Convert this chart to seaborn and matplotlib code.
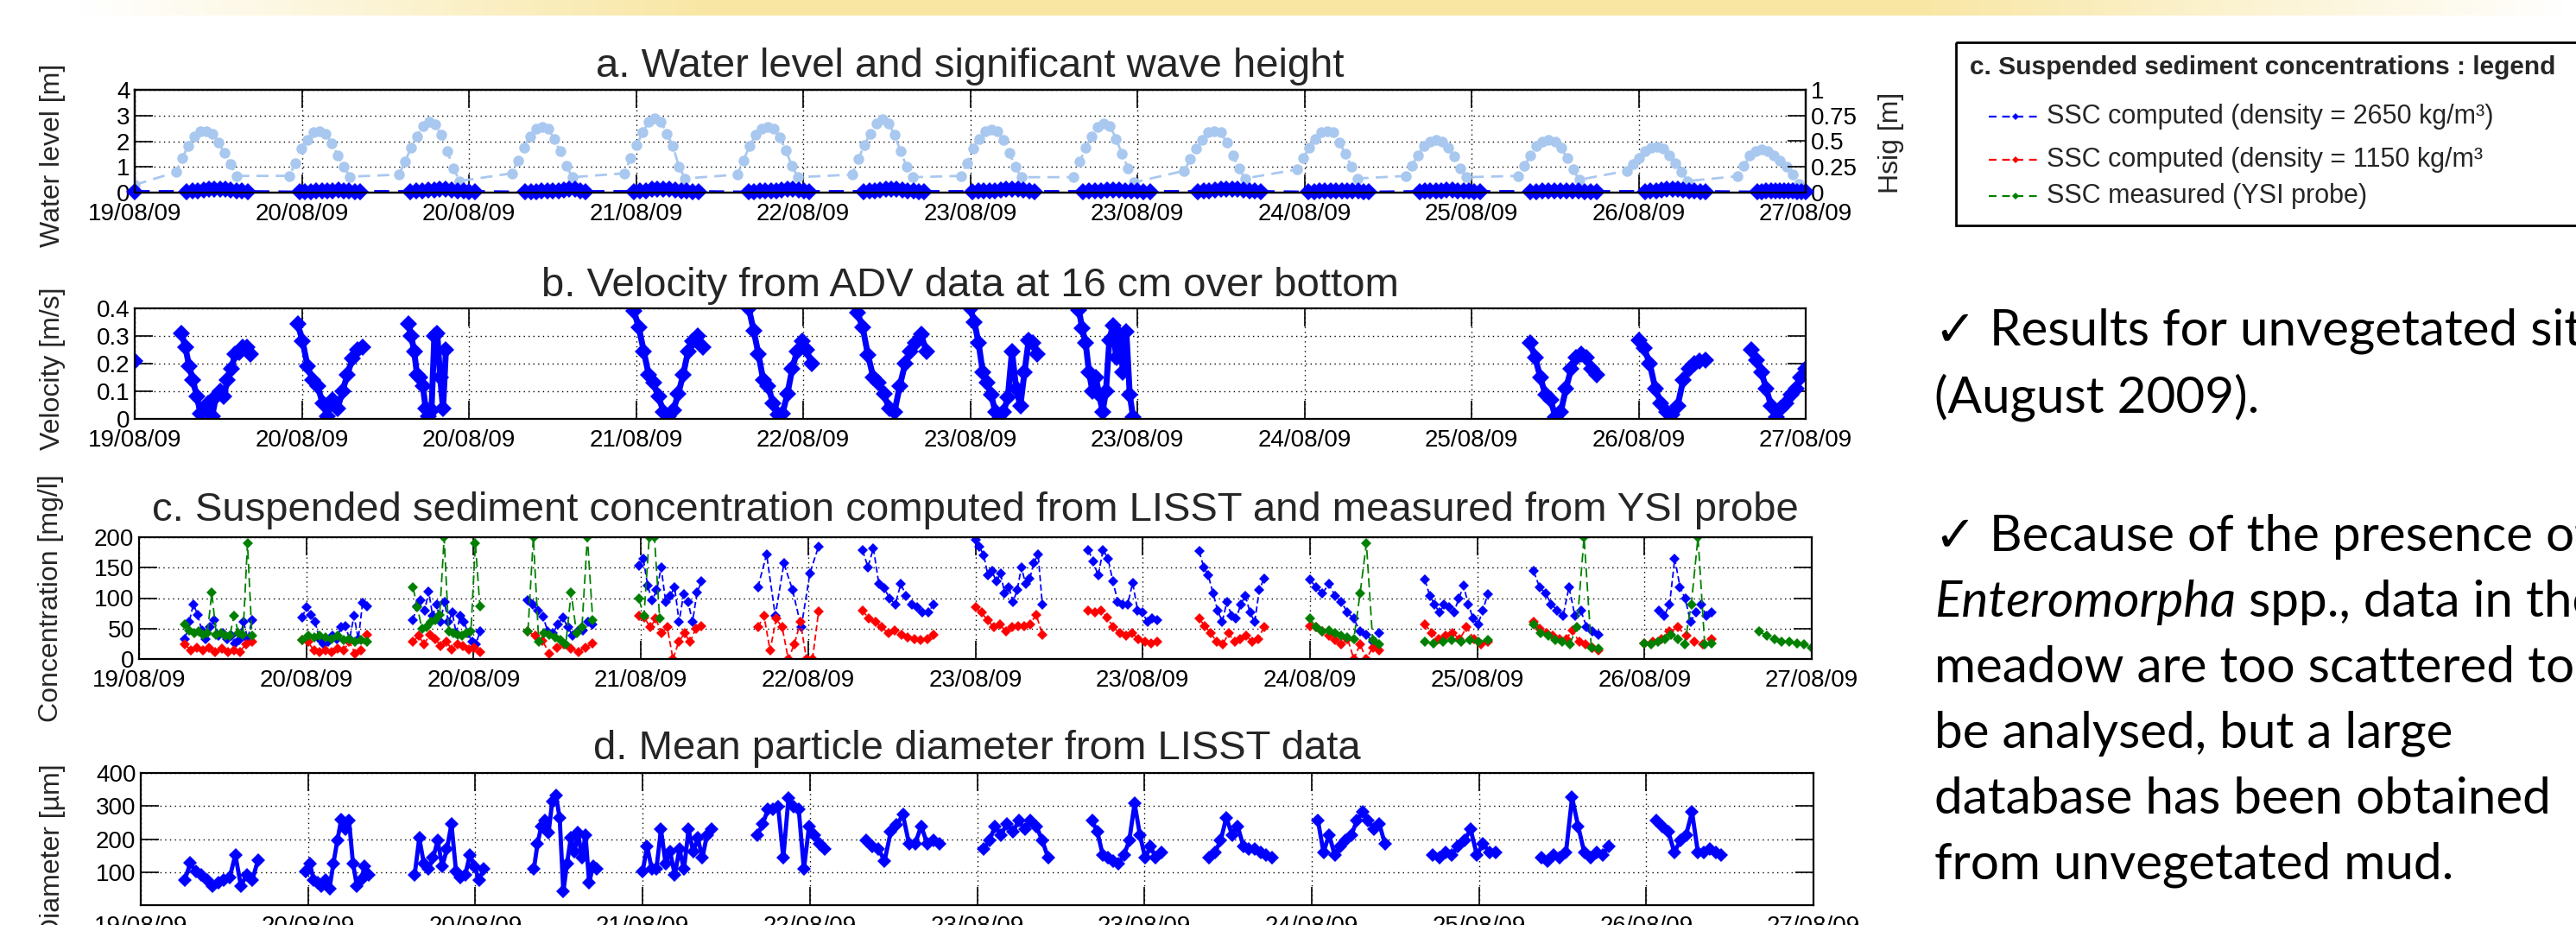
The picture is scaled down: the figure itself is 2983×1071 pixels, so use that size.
import numpy as np
import pandas as pd
import matplotlib
matplotlib.use("Agg")
import matplotlib.pyplot as plt
import seaborn as sns
from matplotlib.patches import Rectangle
from matplotlib.colors import LinearSegmentedColormap

sns.set_theme(style="ticks")
plt.rcParams['font.family'] = ['Liberation Sans', 'DejaVu Sans']
plt.rcParams['axes.unicode_minus'] = False

W, H = 2983, 1071

# x axis in days since 19/08/09 00:00
tick_days = [0, 0.8, 1.6, 2.4, 3.2, 4.0, 4.8, 5.6, 6.4, 7.2, 8.0]
tick_labels = ['19/08/09', '20/08/09', '20/08/09', '21/08/09', '22/08/09', '23/08/09',
               '23/08/09', '24/08/09', '25/08/09', '26/08/09', '27/08/09']

# ---- a. water level (m), one list per tide, sampled every ~42 min around the peak
tide_step = 0.029
tide_peak = [0.343, 0.885, 1.41, 1.95, 2.49, 3.03, 3.58, 4.10, 4.64, 5.17, 5.71, 6.23, 6.77, 7.29, 7.82]
tide_vals = [
    [0.80, 1.35, 1.80, 2.20, 2.38, 2.40, 2.30, 1.95, 1.55, 1.10, 0.65],
    [0.65, 1.15, 1.70, 2.05, 2.35, 2.40, 2.30, 1.90, 1.45, 1.00, 0.62],
    [0.70, 1.20, 1.75, 2.20, 2.60, 2.74, 2.65, 2.25, 1.60, 0.95, 0.45],
    [0.75, 1.25, 1.75, 2.20, 2.50, 2.57, 2.50, 2.10, 1.60, 1.05, 0.60],
    [0.75, 1.35, 1.85, 2.35, 2.75, 2.90, 2.75, 2.30, 1.80, 1.00, 0.55],
    [0.70, 1.25, 1.80, 2.25, 2.50, 2.57, 2.50, 2.15, 1.65, 1.05, 0.60],
    [0.70, 1.30, 1.85, 2.30, 2.70, 2.85, 2.70, 2.25, 1.60, 1.00, 0.60],
    [0.65, 1.15, 1.70, 2.10, 2.40, 2.46, 2.40, 2.05, 1.55, 1.00, 0.60],
    [0.60, 1.20, 1.75, 2.20, 2.55, 2.68, 2.60, 2.10, 1.50, 0.95, 0.40],
    [0.85, 1.30, 1.70, 2.05, 2.35, 2.40, 2.35, 1.95, 1.45, 0.95, 0.55],
    [0.90, 1.35, 1.75, 2.10, 2.35, 2.40, 2.35, 1.95, 1.50, 1.00, 0.55],
    [0.65, 1.05, 1.45, 1.80, 2.00, 2.06, 2.00, 1.75, 1.40, 0.95, 0.60],
    [0.65, 1.05, 1.45, 1.80, 2.00, 2.06, 2.00, 1.75, 1.35, 0.90, 0.50],
    [0.85, 1.10, 1.35, 1.60, 1.75, 1.78, 1.72, 1.45, 1.15, 0.80, 0.45],
    [0.64, 1.04, 1.43, 1.60, 1.67, 1.62, 1.45, 1.25, 1.00, 0.70, 0.35],
]

# ---- a. significant wave height (m), right axis
hs_start = [0.25, 0.79, 1.32, 1.87, 2.39, 2.94, 3.49, 4.01, 4.54, 5.09, 5.62, 6.15, 6.68, 7.23, 7.77]
hs_end = [0.54, 1.08, 1.63, 2.16, 2.70, 3.23, 3.78, 4.31, 4.86, 5.39, 5.91, 6.44, 7.00, 7.52, 8.00]
hs_vals = [
    [0.010, 0.015, 0.020, 0.025, 0.030, 0.030, 0.035, 0.030, 0.025, 0.020, 0.015, 0.010],
    [0.005, 0.010, 0.010, 0.015, 0.015, 0.020, 0.020, 0.025, 0.020, 0.015, 0.010, 0.010],
    [0.010, 0.015, 0.020, 0.025, 0.025, 0.030, 0.030, 0.025, 0.020, 0.015, 0.010, 0.010],
    [0.005, 0.010, 0.010, 0.015, 0.015, 0.015, 0.020, 0.025, 0.030, 0.035, 0.020, 0.010],
    [0.010, 0.015, 0.020, 0.030, 0.035, 0.035, 0.030, 0.025, 0.020, 0.015, 0.010, 0.010],
    [0.005, 0.010, 0.015, 0.015, 0.020, 0.020, 0.025, 0.030, 0.030, 0.025, 0.015, 0.010],
    [0.010, 0.015, 0.020, 0.025, 0.030, 0.035, 0.030, 0.025, 0.020, 0.015, 0.010, 0.010],
    [0.010, 0.015, 0.015, 0.020, 0.020, 0.025, 0.030, 0.035, 0.030, 0.025, 0.015, 0.010],
    [0.010, 0.015, 0.020, 0.020, 0.025, 0.025, 0.025, 0.020, 0.020, 0.015, 0.010, 0.010],
    [0.010, 0.015, 0.020, 0.025, 0.030, 0.035, 0.035, 0.030, 0.025, 0.020, 0.015, 0.010],
    [0.005, 0.010, 0.015, 0.015, 0.020, 0.020, 0.020, 0.020, 0.015, 0.015, 0.010, 0.005],
    [0.010, 0.015, 0.015, 0.020, 0.020, 0.025, 0.025, 0.020, 0.020, 0.015, 0.010, 0.010],
    [0.010, 0.010, 0.015, 0.015, 0.020, 0.020, 0.020, 0.015, 0.015, 0.010, 0.010, 0.010],
    [0.010, 0.015, 0.020, 0.025, 0.030, 0.035, 0.030, 0.025, 0.020, 0.015, 0.010, 0.010],
    [0.005, 0.010, 0.015, 0.015, 0.020, 0.020, 0.020, 0.015, 0.015, 0.010, 0.010, 0.005],
]

# ---- b. ADV velocity (m/s)
vel_start = [0.00, 0.224, 0.78, 1.31, 2.39, 2.94, 3.46, 4.00, 4.52, 6.68, 7.20, 7.74]
vel_end = [0.00, 0.554, 1.09, 1.49, 2.72, 3.24, 3.79, 4.32, 4.78, 7.00, 7.52, 8.00]
vel_vals = [
    [0.21],
    [0.31, 0.26, 0.19, 0.14, 0.08, 0.02, 0.04, 0.057, 0.01, 0.08, 0.10, 0.08, 0.14, 0.18, 0.235, 0.24, 0.26, 0.26, 0.235],
    [0.345, 0.28, 0.19, 0.14, 0.12, 0.057, 0.01, 0.07, 0.036, 0.10, 0.16, 0.22, 0.25, 0.26],
    [0.345, 0.30, 0.245, 0.16, 0.15, 0.12, 0.036, 0.01, 0.03, 0.30, 0.31, 0.15, 0.036, 0.25],
    [0.39, 0.33, 0.245, 0.16, 0.13, 0.08, 0.026, 0.01, 0.03, 0.09, 0.16, 0.245, 0.28, 0.30, 0.26],
    [0.40, 0.32, 0.235, 0.14, 0.12, 0.057, 0.016, 0.02, 0.09, 0.18, 0.245, 0.28, 0.25, 0.20],
    [0.385, 0.33, 0.23, 0.15, 0.13, 0.09, 0.036, 0.026, 0.12, 0.20, 0.244, 0.275, 0.306, 0.244],
    [0.40, 0.35, 0.275, 0.17, 0.13, 0.088, 0.026, 0.0, 0.026, 0.078, 0.244, 0.11, 0.047, 0.17, 0.285, 0.275, 0.234],
    [0.395, 0.327, 0.275, 0.17, 0.10, 0.15, 0.088, 0.026, 0.10, 0.285, 0.338, 0.223, 0.306, 0.17, 0.316, 0.088, 0.005],
    [0.275, 0.223, 0.15, 0.088, 0.068, 0.005, 0.026, 0.11, 0.18, 0.223, 0.234, 0.223, 0.18, 0.16],
    [0.285, 0.255, 0.20, 0.11, 0.057, 0.026, 0.016, 0.047, 0.14, 0.18, 0.20, 0.208, 0.213],
    [0.25, 0.213, 0.17, 0.11, 0.047, 0.005, 0.036, 0.057, 0.088, 0.11, 0.15, 0.18],
]

# ---- c. SSC (mg/l)
ssc_blue_start = [0.22, 0.78, 1.31, 1.86, 2.39, 2.96, 3.46, 4.00, 4.54, 5.07, 5.60, 6.15, 6.67, 7.27]
ssc_blue_end = [0.54, 1.09, 1.63, 2.17, 2.69, 3.25, 3.80, 4.32, 4.87, 5.38, 5.93, 6.45, 6.98, 7.52]
ssc_blue = [
    [33, 61, 90, 73, 47, 33, 52, 64, 38, 42, 33, 38, 26, 31, 61, 33, 64],
    [68, 85, 73, 61, 33, 24, 28, 38, 33, 52, 54, 33, 71, 33, 92, 87],
    [64, 87, 96, 80, 111, 71, 90, 61, 94, 61, 76, 42, 71, 61, 42, 28, 24, 45],
    [96, 90, 80, 70, 45, 42, 57, 68, 52, 38, 45, 47, 61, 57],
    [153, 165, 120, 96, 113, 150, 94, 104, 118, 61, 106, 94, 61, 109, 127],
    [118, 172, 71, 157, 113, 52, 141, 185],
    [179, 151, 182, 123, 116, 99, 90, 123, 104, 90, 85, 76, 76, 90],
    [196, 184, 170, 137, 144, 127, 141, 108, 118, 94, 113, 151, 123, 132, 158, 172, 90],
    [179, 160, 137, 179, 165, 127, 94, 90, 90, 125, 80, 76, 61, 66, 64],
    [177, 151, 137, 108, 80, 61, 94, 71, 66, 90, 104, 76, 61, 113, 132],
    [130, 118, 108, 123, 104, 94, 76, 66, 45, 40, 28, 42],
    [130, 104, 90, 76, 90, 85, 76, 99, 120, 90, 66, 57, 80, 106],
    [144, 118, 108, 90, 80, 71, 118, 71, 80, 52, 45, 40],
    [80, 71, 90, 165, 118, 99, 61, 76, 90, 71, 76],
]
ssc_red_start = [0.22, 0.78, 1.31, 1.86, 2.39, 2.96, 3.46, 4.00, 4.54, 5.07, 5.60, 6.15, 6.67, 7.20]
ssc_red_end = [0.54, 1.09, 1.63, 2.17, 2.69, 3.25, 3.80, 4.32, 4.87, 5.38, 5.93, 6.45, 6.98, 7.52]
ssc_red = [
    [24, 14, 19, 14, 19, 12, 17, 12, 14, 12, 24, 28],
    [31, 28, 14, 12, 14, 12, 17, 14, 28, 9, 14, 40],
    [28, 38, 24, 40, 33, 21, 28, 16, 24, 21, 16, 19, 12],
    [45, 38, 30, 9, 19, 24, 17, 12, 19, 26],
    [71, 68, 52, 66, 42, 52, 0, 28, 42, 28, 50, 54],
    [52, 71, 14, 66, 52, 0, 24, 61, 0, 0, 78],
    [80, 66, 61, 52, 42, 47, 40, 35, 33, 31, 33, 40],
    [85, 76, 64, 52, 57, 45, 52, 54, 54, 57, 73, 40],
    [80, 76, 80, 68, 52, 42, 38, 42, 33, 28, 26, 28],
    [66, 54, 42, 28, 24, 42, 28, 33, 38, 28, 33, 52],
    [54, 52, 45, 38, 31, 24, 33, 0, 24, 0, 19, 14],
    [57, 42, 33, 38, 42, 33, 52, 33, 24, 28],
    [61, 50, 42, 38, 33, 33, 47, 28, 24, 19, 14],
    [26, 28, 33, 45, 52, 38, 28, 24, 33],
]
ssc_green_start = [0.22, 0.78, 1.31, 1.86, 2.39, 5.60, 6.15, 6.67, 7.20, 7.75]
ssc_green_end = [0.54, 1.09, 1.63, 2.17, 2.49, 5.93, 6.45, 6.98, 7.52, 8.00]
ssc_green = [
    [57, 47, 42, 45, 40, 42, 109, 40, 42, 38, 38, 71, 42, 40, 190, 38],
    [31, 38, 35, 38, 35, 33, 38, 31, 33, 28, 31, 28],
    [118, 85, 50, 52, 61, 64, 73, 200, 45, 42, 40, 38, 42, 45, 190, 87],
    [45, 200, 28, 42, 40, 35, 31, 24, 109, 42, 52, 200, 64],
    [99, 71, 200, 200, 66],
    [66, 52, 45, 47, 42, 38, 35, 33, 108, 190, 31, 24],
    [28, 26, 28, 31, 28, 31, 28, 31],
    [57, 42, 38, 31, 28, 24, 52, 200, 19, 17],
    [26, 24, 28, 33, 40, 33, 24, 90, 200, 24, 26],
    [45, 38, 33, 28, 28, 26, 24, 19],
]

# ---- d. mean particle diameter (um)
diam_start = [0.21, 0.79, 1.31, 1.88, 2.40, 2.95, 3.47, 4.03, 4.55, 5.11, 5.63, 6.18, 6.70, 7.25]
diam_end = [0.56, 1.09, 1.64, 2.18, 2.73, 3.27, 3.82, 4.34, 4.88, 5.41, 5.95, 6.48, 7.02, 7.56]
diam_vals = [
    [75, 127, 101, 92, 75, 58, 67, 75, 84, 152, 58, 92, 75, 135],
    [101, 126, 75, 67, 58, 75, 50, 126, 195, 259, 229, 255, 126, 58, 75, 118, 92],
    [92, 203, 126, 109, 143, 195, 118, 169, 246, 101, 84, 92, 152, 118, 75, 109],
    [109, 186, 238, 255, 220, 315, 332, 263, 41, 126, 203, 161, 220, 143, 212, 67, 118, 109],
    [101, 178, 109, 109, 229, 126, 161, 92, 169, 109, 229, 161, 203, 143, 212, 229],
    [212, 246, 289, 289, 297, 143, 323, 297, 289, 109, 238, 212, 186, 169],
    [195, 178, 169, 134, 221, 243, 274, 186, 186, 239, 186, 195, 186],
    [169, 195, 239, 213, 247, 221, 256, 230, 256, 239, 195, 143],
    [256, 221, 152, 143, 134, 125, 152, 195, 308, 213, 143, 178, 143, 160],
    [143, 160, 195, 265, 213, 239, 178, 169, 169, 160, 152, 143],
    [256, 160, 213, 152, 178, 195, 213, 256, 282, 256, 230, 247, 186],
    [152, 143, 160, 152, 178, 195, 230, 152, 186, 160, 160],
    [143, 134, 152, 143, 160, 326, 239, 160, 143, 160, 152, 178],
    [256, 239, 221, 160, 195, 213, 282, 160, 160, 169, 160, 152],
]


def bursts(starts, ends, vals):
    parts = []
    for k, (s, e, v) in enumerate(zip(starts, ends, vals)):
        parts.append(pd.DataFrame({'day': np.linspace(s, e, len(v)), 'val': v, 'burst': k}))
    return pd.concat(parts, ignore_index=True)


wl_t, wl_v = [0.0], [0.3]
for p, vals in zip(tide_peak, tide_vals):
    for i, v in enumerate(vals):
        wl_t.append(p + (i - 5) * tide_step)
        wl_v.append(v)
df_wl = pd.DataFrame({'day': wl_t, 'val': wl_v, 'burst': 0})

df_hs = bursts([0.0] + hs_start, [0.0] + hs_end, [[0.01]] + hs_vals)
df_hs['burst'] = 0  # one continuous record
df_vel = bursts(vel_start, vel_end, vel_vals)
df_blue = bursts(ssc_blue_start, ssc_blue_end, ssc_blue)
df_red = bursts(ssc_red_start, ssc_red_end, ssc_red)
df_green = bursts(ssc_green_start, ssc_green_end, ssc_green)
df_diam = bursts(diam_start, diam_end, diam_vals)

LIGHT = '#a9c8ef'
BLUE = '#0000ff'
RED = '#ff0000'
GREEN = '#008000'


def draw(ax, df, color, marker, ms, ls, lw, clip=True):
    sns.lineplot(data=df, x='day', y='val', units='burst', estimator=None, sort=False,
                 ax=ax, color=color, marker=marker, markersize=ms, markeredgewidth=0,
                 linestyle=ls, linewidth=lw, legend=False, errorbar=None, clip_on=clip)
    ax.set_xlabel('')
    ax.set_ylabel('')


def style(ax, ylim, yticks, ylabels, right=True):
    ax.set_xlim(0, 8)
    ax.set_ylim(*ylim)
    ax.set_xticks(tick_days)
    ax.set_xticklabels(tick_labels)
    ax.set_yticks(yticks)
    ax.set_yticklabels(ylabels)
    ax.tick_params(direction='in', length=15, width=1.2, labelsize=20, top=True,
                   right=right, colors='black')
    ax.tick_params(axis='x', pad=8.5)
    ax.tick_params(axis='y', pad=4)
    ax.grid(True, linestyle=(0, (1, 3)), color='black', linewidth=1.0)
    for s in ax.spines.values():
        s.set_linewidth(1.6)
        s.set_color('black')


def frac(l, t, r, b):
    return [l / W, 1 - b / H, (r - l) / W, (b - t) / H]


fig = plt.figure(figsize=(W / 100, H / 100), dpi=100)
fig.patch.set_facecolor('white')

ax_a = fig.add_axes(frac(156, 104, 2091, 223))
ax_b = fig.add_axes(frac(156, 357, 2091, 485))
ax_c = fig.add_axes(frac(161, 622, 2098, 763))
ax_d = fig.add_axes(frac(163, 895, 2100, 1048))

TITLE = 34

# a
draw(ax_a, df_wl, LIGHT, 'o', 9, (0, (5, 3)), 2.0)
style(ax_a, (0, 4), [0, 1, 2, 3, 4], ['0', '1', '2', '3', '4'], right=False)
ax_a2 = ax_a.twinx()
draw(ax_a2, df_hs, BLUE, 'D', 10, (0, (5, 3)), 2.5, clip=False)
ax_a2.set_ylim(0, 1)
ax_a2.set_yticks([0, 0.25, 0.5, 0.75, 1])
ax_a2.set_yticklabels(['0', '0.25', '0.5', '0.75', '1'])
ax_a2.tick_params(direction='in', length=15, width=1.2, labelsize=20, pad=4, colors='black')
ax_a2.grid(False)
for s in ax_a2.spines.values():
    s.set_linewidth(1.6)
    s.set_color('black')
ax_a2.set_ylabel('Hsig [m]', fontsize=23)
ax_a2.yaxis.set_label_coords(1 + (2175 - 2091) / 1935, (223 - 165) / 119)
ax_a.set_title('a. Water level and significant wave height', fontsize=TITLE, pad=11)
ax_a.set_ylabel('Water level [m]', fontsize=23)
ax_a.yaxis.set_label_coords((76 - 156) / 1935, (223 - 180) / 119)

# b
draw(ax_b, df_vel, BLUE, 'D', 10, '-', 5.0)
style(ax_b, (0, 0.4), [0, 0.1, 0.2, 0.3, 0.4], ['0', '0.1', '0.2', '0.3', '0.4'])
ax_b.set_title('b. Velocity from ADV data at 16 cm over bottom', fontsize=TITLE, pad=10)
ax_b.set_ylabel('Velocity [m/s]', fontsize=23)
ax_b.yaxis.set_label_coords((76 - 156) / 1935, (485 - 427) / 128)

# c
draw(ax_c, df_blue, BLUE, 'D', 6, (0, (4, 2)), 1.3)
draw(ax_c, df_red, RED, 'D', 6, (0, (4, 2)), 1.3)
draw(ax_c, df_green, GREEN, 'D', 6, (0, (6, 3)), 1.3)
style(ax_c, (0, 200), [0, 50, 100, 150, 200], ['0', '50', '100', '150', '200'])
ax_c.set_title('c. Suspended sediment concentration computed from LISST and measured from YSI probe',
               fontsize=TITLE, pad=14)
ax_c.set_ylabel('Concentration [mg/l]', fontsize=23)
ax_c.yaxis.set_label_coords((74 - 161) / 1937, (763 - 693) / 141)

# d
draw(ax_d, df_diam, BLUE, 'D', 8, '-', 3.5)
style(ax_d, (0, 400), [100, 200, 300, 400], ['100', '200', '300', '400'])
ax_d.set_title('d. Mean particle diameter from LISST data', fontsize=TITLE, pad=11.5)
ax_d.set_ylabel('Diameter [\u00b5m]', fontsize=23)
ax_d.yaxis.set_label_coords((76 - 163) / 1937, (1048 - 985) / 153)

# ---- overlay in pixel coordinates for slide decorations
ov = fig.add_axes([0, 0, 1, 1])
ov.set_axis_off()
strip = LinearSegmentedColormap.from_list(
    'strip', [(0, '#ffffff'), (0.03, '#ffffff'), (0.28, '#f8e6a2'), (0.74, '#f8e6a2'), (1.0, '#ffffff')])
ov.imshow(np.linspace(0, 1, 800)[None, :], cmap=strip, extent=[0, W, 18, 0], aspect='auto')
ov.set_xlim(0, W)
ov.set_ylim(H, 0)

# legend box
ov.add_patch(Rectangle((2265, 49), 800, 212, fill=False, edgecolor='black', linewidth=2.0))
ov.text(2281, 78, 'c. Suspended sediment concentrations : legend', fontsize=21.5,
        fontweight='bold', va='center', ha='left')
leg_items = [(BLUE, 135, 'SSC computed (density = 2650 kg/m\u00b3)'),
             (RED, 185, 'SSC computed (density = 1150 kg/m\u00b3'),
             (GREEN, 227, 'SSC measured (YSI probe)')]
for col, yy, lab in leg_items:
    ov.plot([2303, 2334, 2365], [yy, yy, yy], linestyle=(0, (4, 3)), color=col, linewidth=1.6,
            marker='D', markersize=4, markevery=[1], markeredgewidth=0)
    ov.text(2370, yy, lab, fontsize=22, va='center', ha='left')

# slide text
tk = dict(fontsize=42, family=['Lato', 'DejaVu Sans'], va='baseline', ha='left', color='black')
x0 = 2240
ov.text(x0, 400, '\u2713 Results for unvegetated site', **tk)
ov.text(x0, 478, '(August 2009).', **tk)
ov.text(x0, 638, '\u2713 Because of the presence of', **tk)
t_it = ov.text(x0, 714, 'Enteromorpha', style='italic', **tk)
renderer = fig.canvas.get_renderer()
bb = t_it.get_window_extent(renderer)
x_after = ov.transData.inverted().transform((bb.x1, bb.y0))[0]
ov.text(x_after, 714, ' spp., data in the', **tk)
ov.text(x0, 790, 'meadow are too scattered to', **tk)
ov.text(x0, 866, 'be analysed, but a large', **tk)
ov.text(x0, 942, 'database has been obtained', **tk)
ov.text(x0, 1018, 'from unvegetated mud.', **tk)

fig.savefig('out.png', dpi=100)
